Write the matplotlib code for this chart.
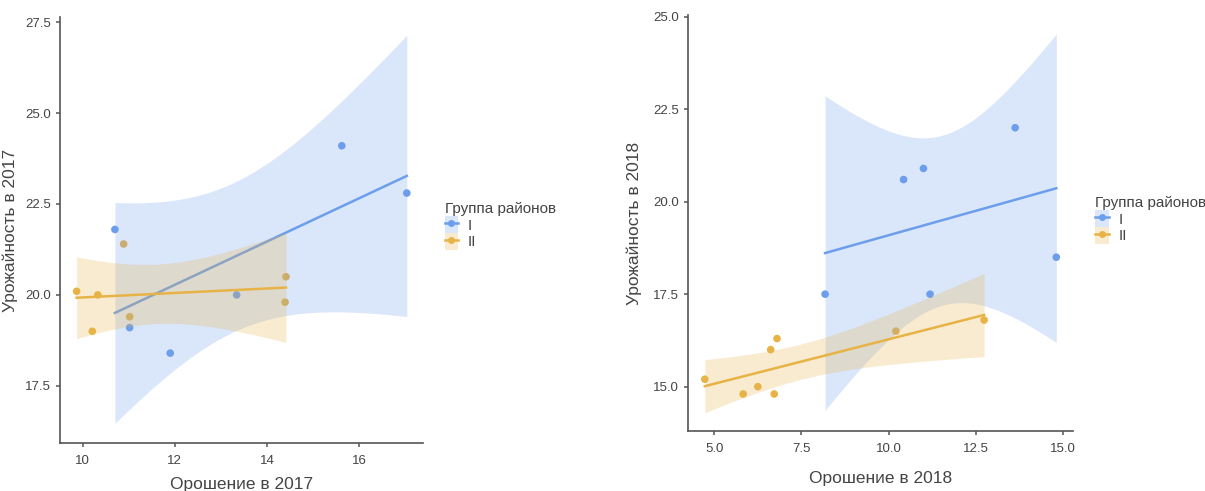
import numpy as np
import matplotlib
matplotlib.use("Agg")
import matplotlib.pyplot as plt
from matplotlib.patches import Patch
from matplotlib.lines import Line2D

plt.rcParams['font.family'] = ['Liberation Sans', 'DejaVu Sans']

# 2017 data
x17_g1 = [10.70, 11.02, 11.90, 13.34, 15.62, 17.03]
y17_g1 = [21.8, 19.1, 18.4, 20.0, 24.1, 22.8]
x17_g2 = [9.87, 10.21, 10.33, 10.89, 11.02, 14.41, 14.39]
y17_g2 = [20.1, 19.0, 20.0, 21.4, 19.4, 20.5, 19.8]

# 2018 data
x18_g1 = [8.18, 10.43, 11.00, 11.19, 13.63, 14.81]
y18_g1 = [17.5, 20.6, 20.9, 17.5, 22.0, 18.5]
x18_g2 = [4.73, 5.83, 6.25, 6.62, 6.72, 6.80, 10.21, 12.74]
y18_g2 = [15.2, 14.8, 15.0, 16.0, 14.8, 16.3, 16.5, 16.8]

group_labels = ['I', 'II']
legend_title = 'Группа районов'

BLUE = '#6D9EEB'
ORANGE = '#E7B347'
TEXT = '#444444'
AXIS = '#555555'

# two-sided 95% t quantiles by degrees of freedom
T95 = {3: 3.182, 4: 2.776, 5: 2.571, 6: 2.447, 7: 2.365}


def fit_band(x, y):
    x = np.asarray(x, float)
    y = np.asarray(y, float)
    n = len(x)
    slope, icpt = np.polyfit(x, y, 1)
    resid = y - (slope * x + icpt)
    s = np.sqrt(np.sum(resid ** 2) / (n - 2))
    sxx = np.sum((x - x.mean()) ** 2)
    xs = np.linspace(x.min(), x.max(), 100)
    ys = slope * xs + icpt
    se = s * np.sqrt(1 / n + (xs - x.mean()) ** 2 / sxx)
    half = T95[n - 2] * se
    return xs, ys, ys - half, ys + half


def draw_panel(ax, groups, xlabel, ylabel, xlim, ylim, xticks, yticks, xfmt):
    # points first, then ribbon + line per group (ggplot layer order)
    for x, y, c in groups:
        ax.scatter(x, y, s=30, color=c, edgecolor='none', zorder=1)
    z = 2
    for x, y, c in groups:
        xs, ys, lo, hi = fit_band(x, y)
        ax.fill_between(xs, lo, hi, color=c, alpha=0.25, linewidth=0, zorder=z)
        ax.plot(xs, ys, color=c, lw=1.8, zorder=z + 1)
        z += 2
    ax.set_xlim(*xlim)
    ax.set_ylim(*ylim)
    ax.set_xticks(xticks)
    ax.set_yticks(yticks)
    ax.set_xticklabels([xfmt.format(v) for v in xticks])
    ax.set_yticklabels(['{:.1f}'.format(v) for v in yticks])
    for side in ['top', 'right']:
        ax.spines[side].set_visible(False)
    for side in ['left', 'bottom']:
        ax.spines[side].set_color(AXIS)
        ax.spines[side].set_linewidth(1.2)
    ax.tick_params(colors=AXIS, labelcolor=TEXT, labelsize=9.5, length=3, width=1.1)
    ax.tick_params(axis='x', pad=6)
    ax.set_xlabel(xlabel, fontsize=12.5, color=TEXT)
    ax.set_ylabel(ylabel, fontsize=12.5, color=TEXT)

    handles = []
    for (_, _, c) in groups:
        handles.append((Patch(facecolor=c, alpha=0.25, edgecolor='none'),
                        Line2D([], [], color=c, lw=1.8, marker='o', markersize=4)))
    return handles


def add_legend(ax, handles):
    leg = ax.legend(handles, group_labels, title=legend_title, loc='upper left',
                    bbox_to_anchor=(1.03, 0.59), frameon=False, fontsize=11,
                    title_fontsize=11, handlelength=0.9, handleheight=1.3,
                    labelspacing=0.0, handletextpad=0.6, alignment='left',
                    borderpad=0.2)
    for t in leg.get_texts():
        t.set_color(TEXT)
    leg.get_title().set_color(TEXT)
    return leg


fig = plt.figure(figsize=(12.05, 4.91), dpi=100)

ax1 = fig.add_axes([0.0498, 0.0978, 0.3012, 0.8676])
h1 = draw_panel(ax1, [(x17_g1, y17_g1, BLUE), (x17_g2, y17_g2, ORANGE)],
                'Орошение в 2017', 'Урожайность в 2017',
                (9.51, 17.38), (15.93, 27.64),
                [10, 12, 14, 16], [17.5, 20.0, 22.5, 25.0, 27.5], '{:.0f}')
ax1.xaxis.set_label_coords(0.5, -0.08)
ax1.yaxis.set_label_coords(-0.115, 0.5)
add_legend(ax1, h1)

ax2 = fig.add_axes([0.571, 0.1222, 0.3195, 0.8473])
h2 = draw_panel(ax2, [(x18_g1, y18_g1, BLUE), (x18_g2, y18_g2, ORANGE)],
                'Орошение в 2018', 'Урожайность в 2018',
                (4.25, 15.29), (13.80, 25.05),
                [5.0, 7.5, 10.0, 12.5, 15.0], [15.0, 17.5, 20.0, 22.5, 25.0], '{:.1f}')
ax2.xaxis.set_label_coords(0.5, -0.095)
ax2.yaxis.set_label_coords(-0.12, 0.5)
add_legend(ax2, h2)

fig.savefig('out.png', dpi=100)
